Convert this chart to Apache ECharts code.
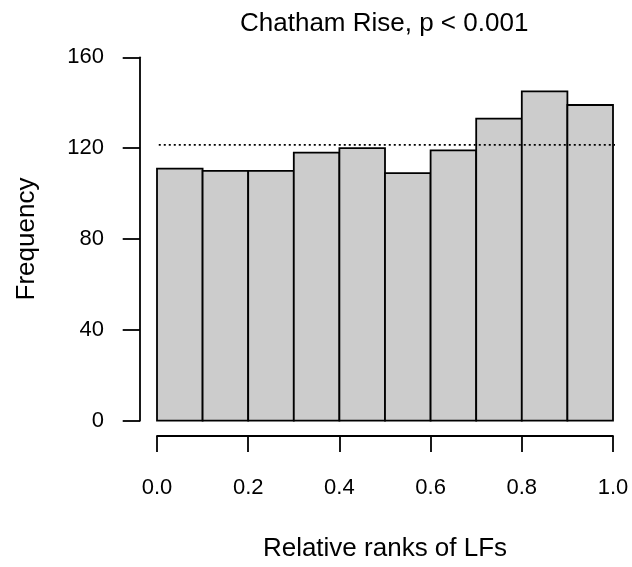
<!DOCTYPE html>
<html>
<head>
<meta charset="utf-8">
<script src="https://cdn.jsdelivr.net/npm/echarts@6/dist/echarts.min.js"></script>
<style>
  html, body { margin: 0; padding: 0; background: #fff; }
  #hist { width: 632px; height: 567px; }
</style>
</head>
<body>
<div id="hist"></div>
<script>
// histogram of relative ranks (Chatham Rise)
var breaks = [0, 0.1, 0.2, 0.3, 0.4, 0.5, 0.6, 0.7, 0.8, 0.9, 1.0];
var counts = [111, 110, 110, 118, 120, 109, 119, 133, 145, 139];
var xTicks = [0, 0.2, 0.4, 0.6, 0.8, 1.0];
var yTicks = [0, 40, 80, 120, 160];
var titleText = 'Chatham Rise, p < 0.001';
var xName = 'Relative ranks of LFs';
var yName = 'Frequency';

// expected count per bin (dotted reference line)
var total = 0;
for (var i = 0; i < counts.length; i++) total += counts[i];
var expected = total / counts.length;

// R pads the plot region by 4% on each side
var xPad = (breaks[breaks.length - 1] - breaks[0]) * 0.04;
var xUsr = [breaks[0] - xPad, breaks[breaks.length - 1] + xPad];

var bins = [];
for (var j = 0; j < counts.length; j++) {
    bins.push([breaks[j], breaks[j + 1], counts[j]]);
}

var font = 'Liberation Sans, Arial, sans-serif';
var myChart = echarts.init(document.getElementById('hist'));
var option = {
    backgroundColor: '#ffffff',
    animation: false,
    title: {
        text: titleText,
        left: 240,
        top: 11,
        padding: 0,
        textStyle: { fontFamily: font, fontSize: 26, fontWeight: 'normal', color: '#000' }
    },
    grid: { left: 157, right: 19, top: 57.3, bottom: 146.3 },
    xAxis: {
        type: 'value',
        min: xTicks[0],
        max: xTicks[xTicks.length - 1],
        interval: 0.2,
        offset: 15.3,
        name: xName,
        nameLocation: 'middle',
        nameGap: 100,
        nameTextStyle: { fontFamily: font, fontSize: 26, color: '#000' },
        axisLine: { show: true, onZero: false, lineStyle: { color: '#000', width: 1.8 } },
        axisTick: { show: true, length: 16, lineStyle: { color: '#000', width: 1.8 } },
        axisLabel: {
            margin: 41,
            fontFamily: font, fontSize: 22, color: '#000',
            formatter: function (v) { return v.toFixed(1); }
        },
        splitLine: { show: false }
    },
    yAxis: {
        type: 'value',
        min: yTicks[0],
        max: yTicks[yTicks.length - 1],
        interval: 40,
        offset: 17,
        name: yName,
        nameLocation: 'middle',
        nameRotate: 90,
        nameGap: 100,
        nameTextStyle: { fontFamily: font, fontSize: 26, color: '#000' },
        axisLine: { show: true, onZero: false, lineStyle: { color: '#000', width: 1.8 } },
        axisTick: { show: true, length: 17.3, lineStyle: { color: '#000', width: 1.8 } },
        axisLabel: { margin: 36, fontFamily: font, fontSize: 22, color: '#000' },
        splitLine: { show: false }
    },
    series: [
        {
            name: 'counts',
            type: 'custom',
            data: bins,
            renderItem: function (params, api) {
                var p0 = api.coord([api.value(0), api.value(2)]);
                var p1 = api.coord([api.value(1), 0]);
                return {
                    type: 'rect',
                    shape: { x: p0[0], y: p0[1], width: p1[0] - p0[0], height: p1[1] - p0[1] },
                    style: { fill: '#cccccc', stroke: '#000', lineWidth: 1.8 }
                };
            }
        },
        {
            name: 'expected',
            type: 'line',
            clip: false,
            symbol: 'none',
            silent: true,
            data: [[xUsr[0], expected], [xUsr[1], expected]],
            lineStyle: { color: '#000', width: 1.8, type: [2, 3] }
        }
    ]
};
myChart.setOption(option);
</script>
</body>
</html>
